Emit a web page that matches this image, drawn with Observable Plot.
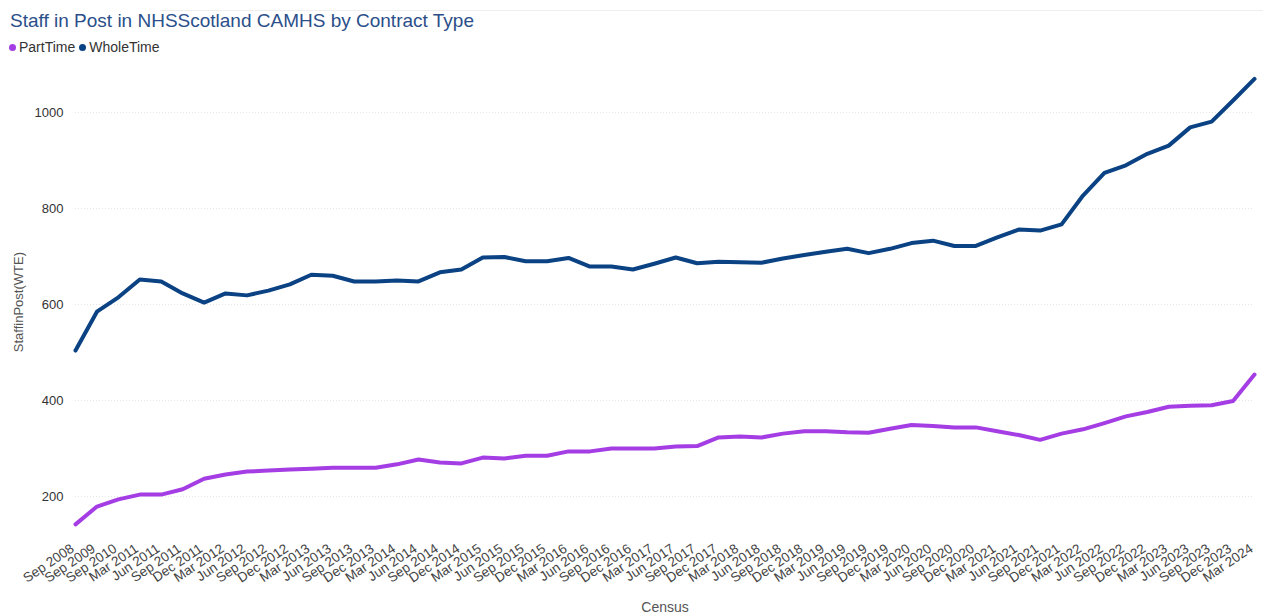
<!DOCTYPE html>
<html><head><meta charset="utf-8">
<script src="https://cdn.jsdelivr.net/npm/d3@7"></script>
<script src="https://cdn.jsdelivr.net/npm/@observablehq/plot@0.6"></script>
<style>
body{margin:0;background:#fff;font-family:"Liberation Sans",Arial,sans-serif;}
#wrap{position:relative;width:1263px;height:616px;overflow:hidden;}
#topline{position:absolute;left:160px;right:0;top:10px;height:1px;background:#eee;}
#title{position:absolute;left:10px;top:10px;font-size:19px;color:#2b4f8a;white-space:nowrap;}
#legend{position:absolute;left:9px;top:39px;font-size:14px;color:#333;white-space:nowrap;}
#legend span.dot{display:inline-block;width:7px;height:7px;border-radius:50%;margin-right:3px;vertical-align:1px;}
#legend span.item{margin-right:4px;}
#chart{position:absolute;left:0;top:58px;}
#xlabel{position:absolute;left:0;width:1330px;text-align:center;top:599px;font-size:14px;color:#555;}
</style></head>
<body><div id="wrap">
<div id="topline"></div>
<div id="title">Staff in Post in NHSScotland CAMHS by Contract Type</div>
<div id="legend"></div>
<div id="chart"></div>
<div id="xlabel">Census</div>
</div>
<script>
const census = ["Sep 2008","Sep 2009","Sep 2010",
"Mar 2011","Jun 2011","Sep 2011","Dec 2011",
"Mar 2012","Jun 2012","Sep 2012","Dec 2012",
"Mar 2013","Jun 2013","Sep 2013","Dec 2013",
"Mar 2014","Jun 2014","Sep 2014","Dec 2014",
"Mar 2015","Jun 2015","Sep 2015","Dec 2015",
"Mar 2016","Jun 2016","Sep 2016","Dec 2016",
"Mar 2017","Jun 2017","Sep 2017","Dec 2017",
"Mar 2018","Jun 2018","Sep 2018","Dec 2018",
"Mar 2019","Jun 2019","Sep 2019","Dec 2019",
"Mar 2020","Jun 2020","Sep 2020","Dec 2020",
"Mar 2021","Jun 2021","Sep 2021","Dec 2021",
"Mar 2022","Jun 2022","Sep 2022","Dec 2022",
"Mar 2023","Jun 2023","Sep 2023","Dec 2023",
"Mar 2024"];
const wholeTime = [504,585,615,652,648,623,604,623,619,629,642,662,660,648,648,650,648,667,673,698,699,690,690,697,679,679,673,685,698,686,689,688,687,696,703,710,716,707,716,728,733,722,722,740,756,754,767,827,874,890,914,931,969,981,1025,1070];
const partTime = [142,179,194,204,204,215,237,246,252,254,256,258,260,260,260,267,277,271,269,281,279,285,285,294,294,300,300,300,304,305,323,325,323,331,336,336,334,333,341,349,347,344,344,336,328,318,331,340,353,367,376,387,389,390,399,454];
const seriesNames = ["PartTime","WholeTime"];
const seriesColors = ["#a43de4","#0a4283"];
const yTicks = [200,400,600,800,1000];

const data = [];
census.forEach((c,i)=>{
  data.push({idx:i, census:c, type:"PartTime", value:partTime[i]});
  data.push({idx:i, census:c, type:"WholeTime", value:wholeTime[i]});
});

document.getElementById("legend").innerHTML = seriesNames.map((n,i)=>
  `<span class="item"><span class="dot" style="background:${seriesColors[i]}"></span>${n}</span>`).join("");

const chart = Plot.plot({
  width:1263, height:558,
  marginLeft:75, marginRight:9, marginTop:15.6, marginBottom:86.4,
  style:{fontFamily:"Liberation Sans, Arial, sans-serif", fontSize:"13px", color:"#333", background:"transparent"},
  x:{type:"linear", domain:[0, census.length-1]},
  y:{domain:[130,1080]},
  color:{domain:seriesNames, range:seriesColors},
  marks:[
    Plot.gridY(yTicks,{stroke:"#e6e6e6", strokeOpacity:1, strokeDasharray:"1,2"}),
    Plot.axisY(yTicks,{tickSize:0, tickPadding:12, fontSize:13, fill:"#333", label:null, tickFormat:"d"}),
    Plot.text(["StaffinPost(WTE)"],{frameAnchor:"left", textAnchor:"middle", dx:-57, rotate:-90, fontSize:13, fill:"#555"}),
    Plot.axisX(d3.range(census.length),{tickSize:0, tickRotate:-34, tickPadding:17, dx:-3, fontSize:13.5, fill:"#444", label:null, tickFormat:i=>census[i]}),
    Plot.line(data,{x:"idx", y:"value", z:"type", stroke:"type", strokeWidth:4, strokeLinejoin:"round", strokeLinecap:"round"})
  ]
});
document.getElementById("chart").appendChild(chart);
</script>
</body></html>
